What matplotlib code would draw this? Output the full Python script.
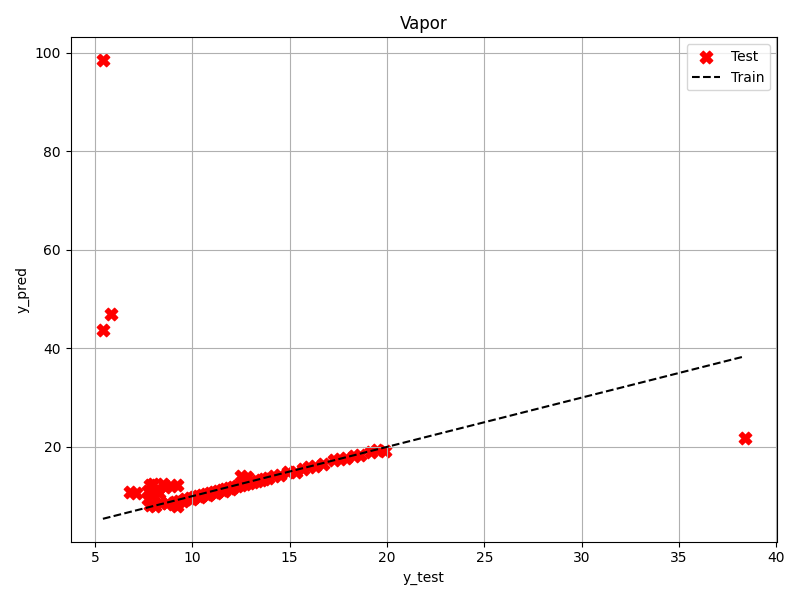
import matplotlib
matplotlib.use("Agg")
from matplotlib import pyplot as plt

y_test = [5.4, 5.4, 5.8, 38.4,
          6.8, 7.1, 7.7, 7.8, 8.0, 8.2, 8.5, 8.9, 9.2, 7.9, 8.3, 8.6,
          7.8, 8.1, 8.7, 9.1, 9.3, 9.6, 9.9, 10.1, 10.3, 10.5, 10.7, 10.9,
          11.1, 11.3, 11.5, 11.7, 11.9, 12.1, 12.3, 12.5, 12.7, 12.9, 13.1,
          13.3, 13.5, 13.7, 13.9, 14.2, 14.5, 14.9, 15.3, 15.7, 16.0, 16.3,
          16.7, 17.3, 17.6, 17.9, 18.3, 18.6, 19.2, 19.5, 19.9, 12.5, 12.8,
          9.0, 9.5, 10.0, 10.4, 10.8, 11.2, 11.6, 12.0, 8.4, 7.7, 9.2]
y_pred = [98.5, 43.8, 47.0, 21.8,
          10.8, 10.6, 11.0, 12.3, 12.5, 11.5, 12.4, 12.0, 12.2, 10.2, 10.6, 11.8,
          8.2, 8.0, 8.6, 8.9, 9.1, 9.4, 9.7, 9.9, 10.1, 10.3, 10.5, 10.7,
          10.9, 11.1, 11.3, 11.5, 11.7, 11.9, 12.1, 12.3, 12.5, 12.7, 12.9,
          13.1, 13.3, 13.5, 13.7, 14.0, 14.2, 14.9, 15.0, 15.5, 16.0, 16.1,
          16.5, 17.3, 17.6, 17.7, 18.1, 18.4, 19.0, 19.3, 19.1, 14.0, 13.8,
          8.5, 9.0, 9.4, 9.8, 10.2, 10.6, 11.0, 11.4, 8.7, 9.5, 7.9]

train_x = [5.4, 38.4]

plt.figure(figsize=(8, 6), dpi=100)
plt.scatter(y_test, y_pred, color="red", marker="X", s=80, label="Test")
plt.plot(train_x, train_x, "k--", label="Train")
plt.title("Vapor")
plt.xlabel("y_test")
plt.ylabel("y_pred")
plt.grid(True)
plt.legend()
plt.tight_layout()
plt.savefig("out.png")
